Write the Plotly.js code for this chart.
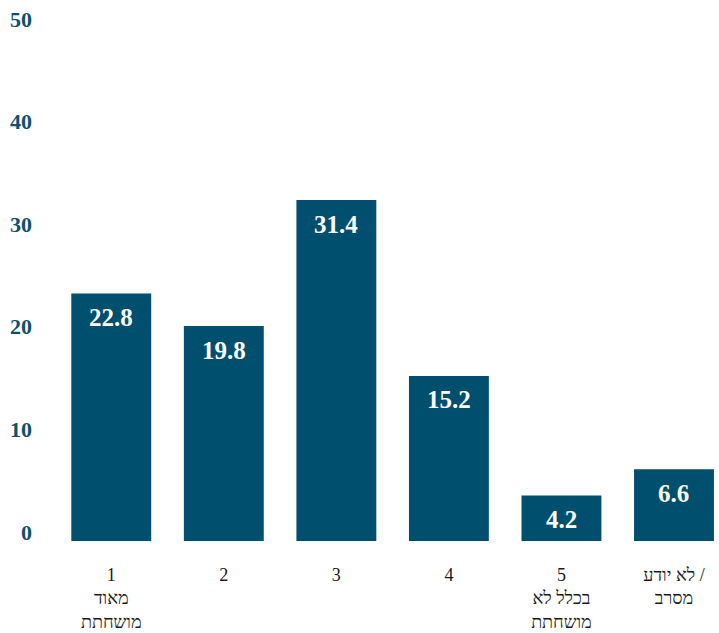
<!DOCTYPE html>
<html>
<head>
<meta charset="utf-8">
<script src="https://cdn.plot.ly/plotly-3.0.1.min.js"></script>
<style>html,body{margin:0;padding:0;background:#fff}#chart{width:719px;height:633px}</style>
</head>
<body>
<div id="chart"></div>
<script>
const categories = ["1<br>מאוד<br>מושחתת", "2", "3", "4", "5<br>בכלל לא<br>מושחתת", "לא יודע /<br>מסרב"];
const values = [22.8, 19.8, 31.4, 15.2, 4.2, 6.6];
const valueLabels = ["22.8", "19.8", "31.4", "15.2", "4.2", "6.6"];
const yTickVals = [0, 10, 20, 30, 40, 50];

const barColor = "#004f6e";
const serif = "Liberation Serif, DejaVu Serif, Times New Roman, serif";

const idx = categories.map((c, i) => i);

const trace = {
  type: "bar",
  x: idx,
  y: values,
  width: 0.71,
  marker: {color: barColor},
  textposition: "none",
  hoverinfo: "none",
  cliponaxis: false
};

const helper = {
  type: "scatter",
  x: [0],
  y: [0],
  yaxis: "y2",
  mode: "markers",
  marker: {opacity: 0},
  hoverinfo: "none",
  showlegend: false
};

const annotations = values.map((v, i) => ({
  x: i, y: v, xref: "x", yref: "y",
  text: "<b>" + valueLabels[i] + "</b>",
  showarrow: false,
  yanchor: "middle",
  yshift: -24,
  font: {family: serif, size: 25, color: "#ffffff"}
}));

const layout = {
  width: 719,
  height: 633,
  margin: {l: 55, r: 0, t: 0, b: 92},
  paper_bgcolor: "#ffffff",
  plot_bgcolor: "#ffffff",
  showlegend: false,
  xaxis: {
    range: [-0.5, 5.4],
    tickvals: idx,
    ticktext: categories,
    showgrid: false,
    zeroline: false,
    showline: false,
    ticks: "",
    ticklabelstandoff: 21,
    tickfont: {family: serif, size: 18, color: "#1a1a1a"}
  },
  yaxis: {
    range: [0, 49.83],
    showgrid: false,
    zeroline: false,
    showline: false,
    showticklabels: false,
    ticks: ""
  },
  yaxis2: {
    overlaying: "y",
    side: "left",
    range: [-0.88, 51.85],
    tickvals: yTickVals,
    ticktext: yTickVals.map(v => "<b>" + v + "</b>"),
    showgrid: false,
    zeroline: false,
    showline: false,
    ticks: "",
    ticklabelstandoff: 22,
    tickfont: {family: serif, size: 22, color: "#0b5170"}
  },
  annotations: annotations
};

Plotly.newPlot("chart", [trace, helper], layout, {displayModeBar: false, staticPlot: true});
</script>
</body>
</html>
